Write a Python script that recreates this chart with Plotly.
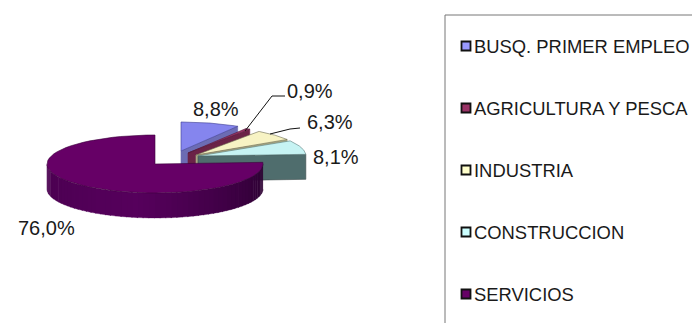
import numpy as np
import plotly.graph_objects as go

categories = ["BUSQ. PRIMER EMPLEO", "AGRICULTURA Y PESCA", "INDUSTRIA", "CONSTRUCCION", "SERVICIOS"]
values = [8.8, 0.9, 6.3, 8.1, 76.0]

top_colors = ["#8585ee", "#993366", "#f7f3c4", "#c6f3f3", "#660066"]
key_colors = ["#9999ff", "#993366", "#ffffcc", "#ccffff", "#660066"]
side_colors = ["#6c6cb4", "#6b2347", "#a8a884", "#4f6d6d", "#4d004d"]
explode = [(26, -13), (33, -11), (41, -9), (43, -8), (0, 0)]

CX, CY, RX, RY, DEPTH = 155, 164, 108, 29, 25
PAGE_MARGIN = 8

fracs = np.array(values) / sum(values)
ends = np.cumsum(fracs) * 2 * np.pi
starts = ends - fracs * 2 * np.pi


def arc(cx, cy, a0, a1, dy=0, n=60):
    t = np.linspace(a0, a1, n)
    return cx + RX * np.sin(t), cy - RY * np.cos(t) + dy


def poly(fig, x, y, fill, edge=None, width=0.6):
    fig.add_trace(go.Scatter(
        x=list(x), y=list(y), mode="lines", fill="toself", fillcolor=fill,
        line=dict(color=edge or fill, width=width), hoverinfo="skip", showlegend=False))


fig = go.Figure()

for i in range(len(values)):
    cx, cy = CX + explode[i][0], CY + explode[i][1]
    a0, a1 = starts[i], ends[i]
    ax, ay = arc(cx, cy, a0, a1)
    if i < 4:
        fx = [cx, ax[-1], ax[-1], cx, cx]
        fy = [cy, ay[-1], ay[-1] + DEPTH, cy + DEPTH, cy]
        poly(fig, fx, fy, side_colors[i], "#3a4a4a" if i == 3 else side_colors[i])
    else:
        edges = np.linspace(max(a0, np.pi / 2), np.pi * 1.5, 61)
        for k in range(60):
            wx, wy = arc(cx, cy, edges[k], edges[k + 1] + 0.01, n=4)
            u = k / 59
            if u < 0.55:
                s = u / 0.55
                rgb = (42 + s * 44, 0, 48 + s * 44)
            else:
                s = (u - 0.55) / 0.45
                rgb = (86 - s * 12, 0, 92 - s * 12)
            c = f"rgb({rgb[0]:.0f},{rgb[1]:.0f},{rgb[2]:.0f})"
            poly(fig, list(wx) + list(wx[::-1]), list(wy) + list(wy[::-1] + DEPTH), c, width=0.3)
    edge = {0: "#3c3c90", 4: "#3d003d"}.get(i, "#6b6b50" if i == 2 else "#5a7a7a" if i == 3 else "#501a35")
    poly(fig, [cx, *ax, cx], [cy, *ay, cy], top_colors[i], edge)

label_pos = [(216, 109), (310, 91), (330, 122), (336, 157), (46, 228)]
text_color = "#1a1a1a"
annotations = []
for v, (x, y) in zip(values, label_pos):
    annotations.append(dict(
        x=x, y=y, xref="x", yref="y", showarrow=False,
        text=f"{v:.1f}%".replace(".", ","),
        font=dict(family="Liberation Sans, Arial", size=20, color=text_color)))

leaders = [
    ([245, 272, 285], [131, 96, 96]),
    ([270, 290, 300], [134, 129, 128]),
]
for lx, ly in leaders:
    fig.add_trace(go.Scatter(x=lx, y=ly, mode="lines", line=dict(color="#111111", width=1),
                             hoverinfo="skip", showlegend=False))

LEG_L, LEG_T = 445, 15
fig.add_trace(go.Scatter(x=[LEG_L, LEG_L, 700], y=[323, LEG_T, LEG_T], mode="lines",
                         line=dict(color="#777777", width=1), hoverinfo="skip", showlegend=False))
rows = [46 + 62 * i for i in range(len(categories))]
for name, col, ry in zip(categories, key_colors, rows):
    fig.add_trace(go.Scatter(
        x=[466], y=[ry], mode="markers", name=name,
        marker=dict(symbol="square", size=9, color=col, line=dict(color="#111111", width=1.8)),
        hoverinfo="skip", showlegend=False))
    annotations.append(dict(
        x=472, y=ry, xref="x", yref="y", xanchor="left", showarrow=False, text=name,
        font=dict(family="Liberation Sans, Arial", size=18.4, color=text_color)))

fig.update_layout(
    width=700 - PAGE_MARGIN, height=323 - PAGE_MARGIN, margin=dict(l=0, r=0, t=0, b=0),
    paper_bgcolor="white", plot_bgcolor="white", annotations=annotations, showlegend=False,
    xaxis=dict(range=[PAGE_MARGIN, 700], visible=False, fixedrange=True),
    yaxis=dict(range=[323, PAGE_MARGIN], visible=False, fixedrange=True),
)
fig.write_html("out.html", config={"displayModeBar": False})
